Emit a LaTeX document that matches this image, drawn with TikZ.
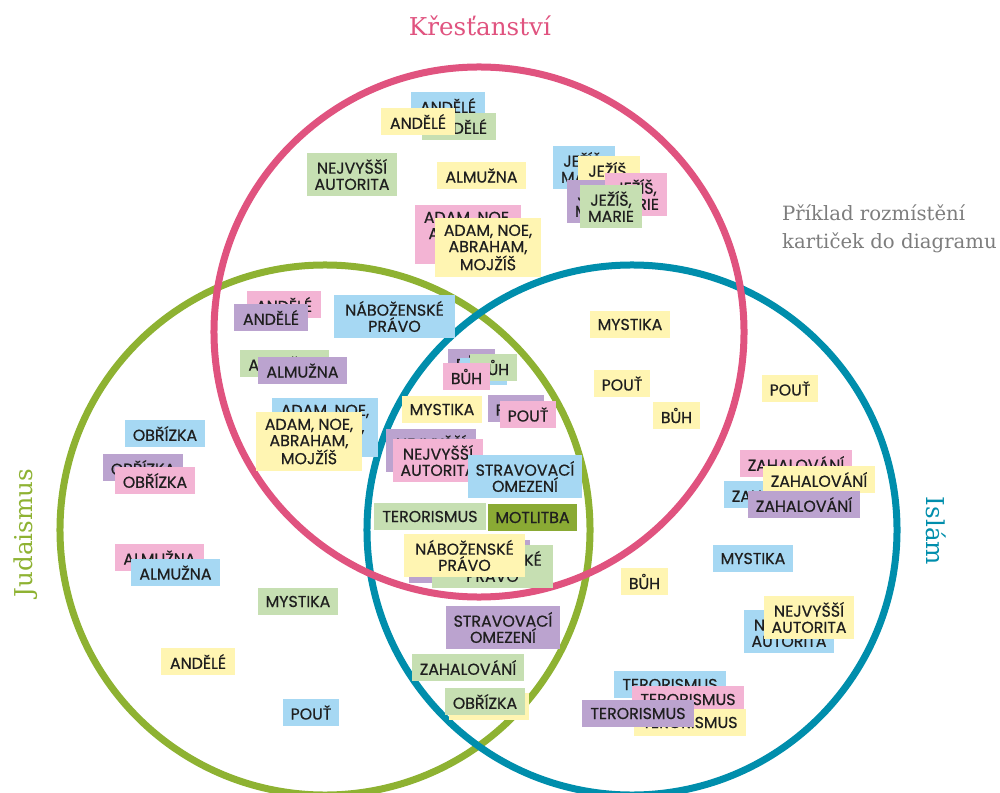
\documentclass[tikz,border=0pt]{standalone}
\usepackage{fontspec}
\setmainfont{DejaVu Serif}
\newfontfamily\cardfont{Poppins}[FakeBold=0.6]
\definecolor{CardBlue}{RGB}{166,216,243}
\definecolor{CardYellow}{RGB}{255,245,178}
\definecolor{CardGreen}{RGB}{198,223,178}
\definecolor{CardPink}{RGB}{243,180,212}
\definecolor{CardPurple}{RGB}{187,163,207}
\definecolor{CardOlive}{RGB}{138,170,52}
\definecolor{RingRed}{RGB}{224,83,127}
\definecolor{RingGreen}{RGB}{142,178,50}
\definecolor{RingBlue}{RGB}{0,142,172}
\definecolor{NoteGray}{RGB}{125,125,125}
\tikzset{
  ring/.style={line width=0.21cm},
  card/.style={inner sep=0pt,minimum width=#1*0.03cm,minimum height=0.81cm,
    align=center,text=black!88,font=\cardfont\fontsize{13.5}{13.8}\selectfont},
  two/.style={minimum height=1.29cm},
  three/.style={minimum height=1.77cm},
  cb/.style={fill=CardBlue},
  cy/.style={fill=CardYellow},
  cg/.style={fill=CardGreen},
  cp/.style={fill=CardPink},
  cv/.style={fill=CardPurple},
  co/.style={fill=CardOlive},
  faith/.style={inner sep=0pt,font=\fontsize{21}{25}\selectfont},
  note/.style={inner sep=0pt,align=left,text=NoteGray,font=\fontsize{16.8}{23.8}\selectfont},
}

\begin{document}
\begin{tikzpicture}[x=0.03cm,y=-0.03cm]
  \useasboundingbox (0,0) rectangle (1000,793);
  % the three circles
  \draw[ring,draw=RingGreen] (325,530) circle[radius=7.95cm];
  \draw[ring,draw=RingBlue] (632,530) circle[radius=7.95cm];
  \draw[ring,draw=RingRed] (479,332) circle[radius=7.95cm];
  \node[faith,text=RingRed,anchor=base] (krest) at (480,36) {Křesťanství};
  \node[faith,text=RingGreen,rotate=90,anchor=base] (jud) at (32,533) {Judaismus};
  \node[faith,text=RingBlue,rotate=-90,anchor=base] (islam) at (926,531) {Islám};
  \node[note,anchor=west] (pozn) at (782,229) {Příklad rozmístění\\kartiček do diagramu};

  % christianity only
  \node[card=74,cb] (andeleB) at (448,105.5) {ANDĚLÉ};
  \node[card=74,cg] (andeleG) at (459,126.5) {ANDĚLÉ};
  \node[card=74,cy] (andeleY) at (418,121.5) {ANDĚLÉ};
  \node[card=90,two,cg] (autoritaG) at (352,174.5) {NEJVYŠŠÍ\\AUTORITA};
  \node[card=89,cy] (almuznaY) at (481.5,175.5) {ALMUŽNA};
  \node[card=106,three,cp] (adamP) at (468,234.5) {ADAM, NOE,\\ABRAHAM,\\MOJŽÍŠ};
  \node[card=106,three,cy] (adamY) at (488,247.5) {ADAM, NOE,\\ABRAHAM,\\MOJŽÍŠ};
  \node[card=62,two,cb] (jezisB) at (584,167.5) {JEŽÍŠ,\\MARIE};
  \node[card=62,two,cy] (jezisY) at (609,177.5) {JEŽÍŠ,\\MARIE};
  \node[card=62,two,cv] (jezisV) at (598,201.5) {JEŽÍŠ,\\MARIE};
  \node[card=62,two,cp] (jezisP) at (636,194.5) {JEŽÍŠ,\\MARIE};
  \node[card=62,two,cg] (jezisG) at (611,206.5) {JEŽÍŠ,\\MARIE};

  % christianity and judaism
  \node[card=74,cp] (andeleP) at (284,304.5) {ANDĚLÉ};
  \node[card=74,cv] (andeleV) at (271,317.5) {ANDĚLÉ};
  \node[card=121,two,cb] (pravoB) at (394.5,316.5) {NÁBOŽENSKÉ\\PRÁVO};
  \node[card=89,cg] (almuznaG) at (284.5,363.5) {ALMUŽNA};
  \node[card=89,cv] (almuznaV) at (302.5,370.5) {ALMUŽNA};
  \node[card=106,three,cb] (adamB) at (325,427.5) {ADAM, NOE,\\ABRAHAM,\\MOJŽÍŠ};
  \node[card=106,three,cy] (adamY2) at (309,441.5) {ADAM, NOE,\\ABRAHAM,\\MOJŽÍŠ};

  % all three
  \node[card=47,cv] (buhV) at (471.5,362.5) {BŮH};
  \node[card=47,cb] (buhB) at (483.5,371.5) {BŮH};
  \node[card=47,cg] (buhG) at (493.5,367.5) {BŮH};
  \node[card=47,cp] (buhP) at (466.5,376.5) {BŮH};
  \node[card=80,cy] (mystikaY) at (442,409.5) {MYSTIKA};
  \node[card=56,cv] (poutV) at (516,408.5) {POUŤ};
  \node[card=56,cp] (poutP) at (528,414.5) {POUŤ};
  \node[card=90,two,cv] (autoritaV) at (431,450.5) {NEJVYŠŠÍ\\AUTORITA};
  \node[card=90,two,cp] (autoritaP) at (438,460.5) {NEJVYŠŠÍ\\AUTORITA};
  \node[card=114,two,cb] (stravaB) at (525,476.5) {STRAVOVACÍ\\OMEZENÍ};
  \node[card=112,cg] (terorG) at (430,516.5) {TERORISMUS};
  \node[card=89,co] (motlitba) at (532.5,517.5) {MOTLITBA};
  \node[card=121,two,cv] (pravoV) at (469.5,561.5) {NÁBOŽENSKÉ\\PRÁVO};
  \node[card=121,two,cg] (pravoG) at (492.5,566.5) {NÁBOŽENSKÉ\\PRÁVO};
  \node[card=121,two,cy] (pravoY) at (464.5,555.5) {NÁBOŽENSKÉ\\PRÁVO};

  % christianity and islam
  \node[card=80,cy] (mystikaY2) at (630,324.5) {MYSTIKA};
  \node[card=56,cy] (poutY) at (622,383.5) {POUŤ};
  \node[card=47,cy] (buhY) at (676.5,415.5) {BŮH};

  % islam only
  \node[card=56,cy] (poutY2) at (790,388.5) {POUŤ};
  \node[card=112,cp] (zahalP) at (796,463.5) {ZAHALOVÁNÍ};
  \node[card=112,cb] (zahalB) at (780,494.5) {ZAHALOVÁNÍ};
  \node[card=112,cy] (zahalY) at (819,479.5) {ZAHALOVÁNÍ};
  \node[card=112,cv] (zahalV) at (804,504.5) {ZAHALOVÁNÍ};
  \node[card=80,cb] (mystikaB) at (753,558.5) {MYSTIKA};
  \node[card=47,cy] (buhY2) at (644.5,581.5) {BŮH};
  \node[card=90,two,cb] (autoritaB) at (789,631.5) {NEJVYŠŠÍ\\AUTORITA};
  \node[card=90,two,cy] (autoritaY) at (809,617.5) {NEJVYŠŠÍ\\AUTORITA};
  \node[card=112,cb] (terorB) at (670,684.5) {TERORISMUS};
  \node[card=112,cp] (terorP) at (688,699.5) {TERORISMUS};
  \node[card=112,cy] (terorY) at (690,722.5) {TERORISMUS};
  \node[card=112,cv] (terorV) at (638,713.5) {TERORISMUS};

  % judaism and islam
  \node[card=114,two,cv] (stravaV) at (503,627.5) {STRAVOVACÍ\\OMEZENÍ};
  \node[card=112,cg] (zahalG) at (468,667.5) {ZAHALOVÁNÍ};
  \node[card=80,cy] (obrizkaY) at (489,706.5) {OBŘÍZKA};
  \node[card=80,cg] (obrizkaG) at (485,701.5) {OBŘÍZKA};

  % judaism only
  \node[card=80,cb] (obrizkaB) at (165,433.5) {OBŘÍZKA};
  \node[card=80,cv] (obrizkaV) at (143,467.5) {OBŘÍZKA};
  \node[card=80,cp] (obrizkaP) at (155,480.5) {OBŘÍZKA};
  \node[card=89,cp] (almuznaP) at (159.5,557.5) {ALMUŽNA};
  \node[card=89,cb] (almuznaB) at (175.5,572.5) {ALMUŽNA};
  \node[card=80,cg] (mystikaG) at (298,601.5) {MYSTIKA};
  \node[card=74,cy] (andeleY2) at (198,661.5) {ANDĚLÉ};
  \node[card=56,cb] (poutB) at (311,712.5) {POUŤ};
\end{tikzpicture}
\end{document}
